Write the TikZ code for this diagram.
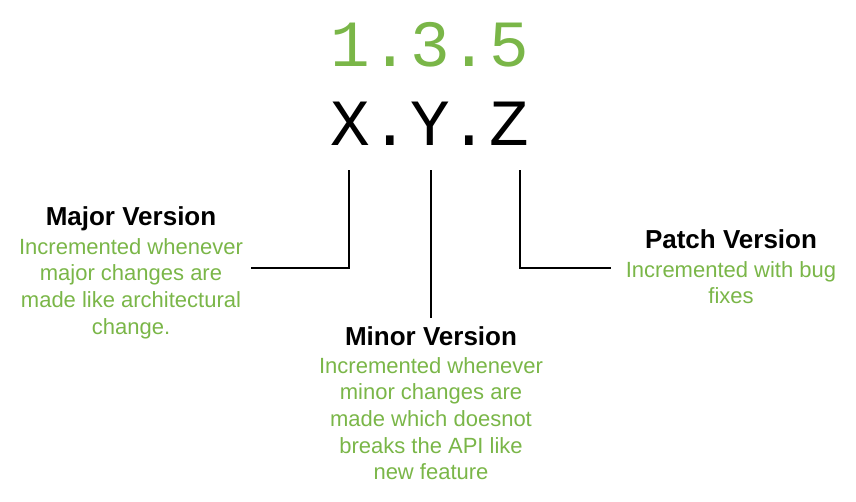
\documentclass[tikz,border=0pt]{standalone}
\usepackage{fontspec}
\setmainfont{Liberation Sans}
\newfontfamily\verfont{Liberation Mono}
\definecolor{vgreen}{RGB}{122,182,72}
\tikzset{
  vernum/.style={font=\verfont\fontsize{66}{66}\selectfont, inner sep=0pt, anchor=base},
  vtitle/.style={font=\bfseries\fontsize{26}{30}\selectfont, inner sep=0pt, anchor=base},
  vdesc/.style={font=\fontsize{22}{26.7}\selectfont, text=vgreen, align=center, inner sep=0pt, anchor=north},
  vline/.style={line width=2pt}
}
\begin{document}
\begin{tikzpicture}[x=1pt,y=-1pt]
\useasboundingbox (0,0) rectangle (856,501);
%% version string
\node[vernum, text=vgreen] (ver) at (430,66) {1.3.5};
\node[vernum] (fmt) at (430,145) {X.Y.Z};
%% labels
\node[vtitle] (major) at (131,225) {Major Version};
\node[vdesc] (majord) at (131,238) {Incremented whenever\\major changes are\\made like architectural\\change.};
\node[vtitle] (minor) at (431,345) {Minor Version};
\node[vdesc] (minord) at (431,357) {Incremented whenever\\minor changes are\\made which doesnot\\breaks the API like\\new feature};
\node[vtitle] (patch) at (731,248) {Patch Version};
\node[vdesc] (patchd) at (731,261) {Incremented with bug\\fixes};
%% connectors
\coordinate (xtop) at (349,170);
\coordinate (ytop) at (431,170);
\coordinate (ztop) at (520,170);
\coordinate (xend) at (251,268);
\coordinate (yend) at (431,318);
\coordinate (zend) at (611,268);
\draw[vline] (xtop) |- (xend);
\draw[vline] (ytop) -- (yend);
\draw[vline] (ztop) |- (zend);
\end{tikzpicture}
\end{document}
